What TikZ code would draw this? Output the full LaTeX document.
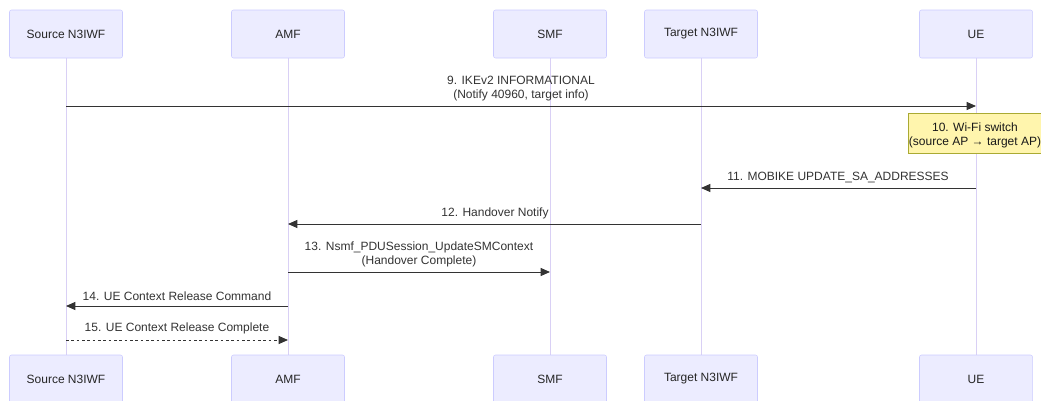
\documentclass[tikz,border=0pt]{standalone}
\usepackage{fontspec}
\setmainfont{Liberation Sans}
\usetikzlibrary{arrows.meta}
\definecolor{actfill}{HTML}{ECECFF}
\definecolor{actdraw}{HTML}{CCCCFF}
\definecolor{lifec}{HTML}{D9D0F5}
\definecolor{msgc}{HTML}{333333}
\definecolor{notefill}{HTML}{FFF5AD}
\definecolor{notedraw}{HTML}{AAAA33}
\begin{document}
\begin{tikzpicture}[x=0.75pt,y=-0.75pt,
  actor/.style={draw=actdraw,fill=actfill,rounded corners=1.5pt,minimum width=84.75pt,minimum height=36pt,inner sep=0pt,font=\fontsize{9}{11}\selectfont,text=black!85},
  life/.style={draw=lifec,line width=0.75pt},
  msg/.style={draw=msgc,line width=0.75pt,-{Triangle[length=7pt,width=6pt]}},
  lbl/.style={font=\fontsize{9}{10.5}\selectfont,text=black!80,align=center,inner sep=0pt},
  note/.style={draw=notedraw,fill=notefill,line width=0.5pt,font=\fontsize{9}{10}\selectfont,align=center,inner sep=0pt,minimum width=100pt,minimum height=30pt}]
\useasboundingbox (0,0) rectangle (1041,400);
% lifelines
\foreach \n/\x in {s/66,a/288,m/550,t/701,u/976}{
  \coordinate (\n top) at (\x,58);
  \coordinate (\n bot) at (\x,355);
  \draw[life] (\n top) -- (\n bot);
}
% actors top
\node[actor] (s1) at (66,34) {Source N3IWF};
\node[actor] (a1) at (288,34) {AMF};
\node[actor] (m1) at (550,34) {SMF};
\node[actor] (t1) at (701,34) {Target N3IWF};
\node[actor] (u1) at (976,34) {UE};
% actors bottom
\node[actor] (s2) at (66,379) {Source N3IWF};
\node[actor] (a2) at (288,379) {AMF};
\node[actor] (m2) at (550,379) {SMF};
\node[actor] (t2) at (701,379) {Target N3IWF};
\node[actor] (u2) at (976,379) {UE};
% messages
\coordinate (s9) at (66,106); \coordinate (u9) at (976,106);
\draw[msg] (s9) -- (u9);
\node[lbl] (l9) at (521,89) {9. IKEv2 INFORMATIONAL\\(Notify 40960, target info)};
\node[note] (n10) at (975,133) {};
\node[lbl,text=black!90] (t10) at (975,135) {10. Wi-Fi switch\\(source AP → target AP)};
\coordinate (u11) at (976,188); \coordinate (t11) at (701,188);
\draw[msg] (u11) -- (t11);
\node[lbl] (l11) at (838,177) {11. MOBIKE UPDATE\_SA\_ADDRESSES};
\coordinate (t12) at (701,224); \coordinate (a12) at (288,224);
\draw[msg] (t12) -- (a12);
\node[lbl] (l12) at (495,213) {12. Handover Notify};
\coordinate (a13) at (288,272); \coordinate (m13) at (550,272);
\draw[msg] (a13) -- (m13);
\node[lbl] (l13) at (419,254) {13. Nsmf\_PDUSession\_UpdateSMContext\\(Handover Complete)};
\coordinate (a14) at (288,306); \coordinate (s14) at (66,306);
\draw[msg] (a14) -- (s14);
\node[lbl] (l14) at (177,296) {14. UE Context Release Command};
\coordinate (s15) at (66,340); \coordinate (a15) at (288,340);
\draw[msg,dash pattern=on 2pt off 2pt] (s15) -- (a15);
\node[lbl] (l15) at (177,328) {15. UE Context Release Complete};
\end{tikzpicture}
\end{document}
